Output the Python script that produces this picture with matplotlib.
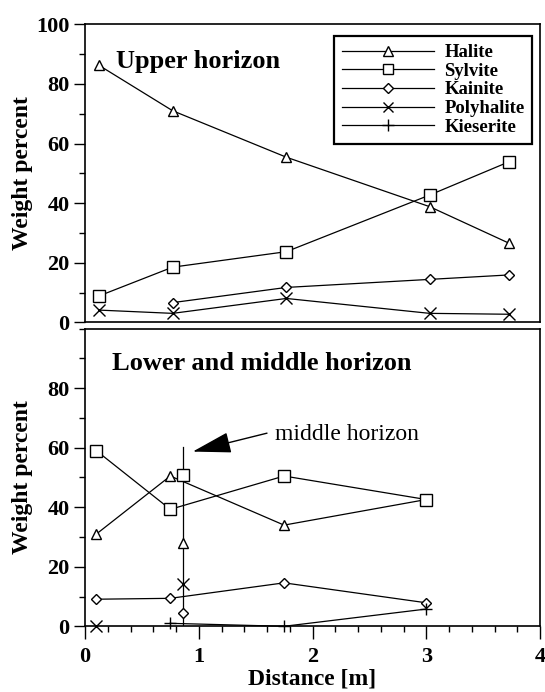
import matplotlib
matplotlib.use("Agg")
import matplotlib.pyplot as plt
from matplotlib.ticker import MultipleLocator, FixedLocator
from matplotlib.lines import Line2D

plt.rcParams['font.family'] = ['Liberation Serif', 'DejaVu Serif']

# ---------------- data ----------------
# Upper horizon
up_x = [0.12, 0.77, 1.77, 3.03, 3.73]
up_halite = [86.3, 71.0, 55.4, 38.8, 26.5]
up_sylvite = [8.8, 18.5, 23.7, 42.7, 53.9]
up_kainite_x = [0.77, 1.77, 3.03, 3.73]
up_kainite = [6.6, 11.7, 14.4, 15.9]
up_polyhalite = [4.1, 3.0, 8.0, 3.0, 2.7]

# Lower horizon
lo_x = [0.10, 0.75, 1.75, 3.00]
lo_halite = [31.0, 50.5, 34.0, 42.6]
lo_sylvite = [59.0, 39.3, 50.5, 42.6]
lo_kainite = [9.1, 9.4, 14.6, 7.9]
lo_polyhalite_x = [0.10]
lo_polyhalite = [0.0]
lo_kieserite_x = [0.75, 1.75, 3.00]
lo_kieserite = [1.0, 0.0, 5.8]

# Middle horizon
mid_x = 0.86
mid_halite = 27.9
mid_sylvite = 50.8
mid_kainite = 4.6
mid_polyhalite = 14.2
mid_line = [0.0, 60.3]

minerals = ['Halite', 'Sylvite', 'Kainite', 'Polyhalite', 'Kieserite']
markers = {'Halite': '^', 'Sylvite': 's', 'Kainite': 'D', 'Polyhalite': 'x', 'Kieserite': '+'}
msizes = {'Halite': 7.5, 'Sylvite': 8, 'Kainite': 5.6, 'Polyhalite': 8, 'Kieserite': 9}

x_ticks = [0, 1, 2, 3, 4]
y_ticks_top = [0, 20, 40, 60, 80, 100]
y_ticks_bottom = [0, 20, 40, 60, 80]

LW = 0.9
TICKFS = 16
LABELFS = 17

def style(m):
    return dict(color='black', lw=LW, marker=markers[m], ms=msizes[m],
                mfc='white', mec='black', mew=1.0, clip_on=False, zorder=3)

fig = plt.figure(figsize=(5.45, 6.92), dpi=100)
L, W = 85 / 545, 455 / 545
ax1 = fig.add_axes([L, 1 - 322.3 / 692, W, 298 / 692])
ax2 = fig.add_axes([L, 1 - 626.3 / 692, W, 297.6 / 692])

# ---- top panel ----
ax1.plot(up_x, up_halite, **style('Halite'))
ax1.plot(up_x, up_sylvite, **style('Sylvite'))
ax1.plot(up_kainite_x, up_kainite, **style('Kainite'))
ax1.plot(up_x, up_polyhalite, **style('Polyhalite'))

leg_ms = {'Halite': 6.5, 'Sylvite': 7, 'Kainite': 5.0, 'Polyhalite': 7.5, 'Kieserite': 9}
handles = []
for m in minerals:
    st = {k: v for k, v in style(m).items() if k not in ('clip_on', 'zorder')}
    st['ms'] = leg_ms[m]
    handles.append(Line2D([], [], **st))
leg = ax1.legend(handles, minerals, loc='upper left', bbox_to_anchor=(0.547, 0.96),
                 borderaxespad=0, frameon=True, fancybox=False, framealpha=1,
                 edgecolor='black', handlelength=4.9, handletextpad=0.57,
                 labelspacing=0.08, borderpad=0.42,
                 prop={'family': 'Liberation Serif', 'weight': 'bold', 'size': 13.5})
leg.get_frame().set_linewidth(1.6)

ax1.text(0.27, 85.2, 'Upper horizon', fontsize=19, fontweight='bold', va='baseline', ha='left')

ax1.set_xlim(0, 4)
ax1.set_ylim(0, 100)
ax1.set_xticks([])
ax1.yaxis.set_major_locator(FixedLocator(y_ticks_top))
ax1.yaxis.set_minor_locator(MultipleLocator(10))

# ---- bottom panel ----
ax2.plot(lo_x, lo_halite, **style('Halite'))
ax2.plot(lo_x, lo_sylvite, **style('Sylvite'))
ax2.plot(lo_x, lo_kainite, **style('Kainite'))
ax2.plot(lo_polyhalite_x, lo_polyhalite, **style('Polyhalite'))
ax2.plot(lo_kieserite_x, lo_kieserite, **style('Kieserite'))

ax2.plot([mid_x, mid_x], mid_line, color='black', lw=LW, zorder=2)
for m, v in (('Halite', mid_halite), ('Sylvite', mid_sylvite),
             ('Kainite', mid_kainite), ('Polyhalite', mid_polyhalite)):
    ax2.plot([mid_x], [v], ls='none',
             **{k: val for k, val in style(m).items() if k not in ('color', 'lw')})

ax2.text(0.237, 86.1, 'Lower and middle horizon', fontsize=19, fontweight='bold', va='baseline', ha='left')
ax2.annotate('', xy=(0.947, 58.7), xytext=(1.60, 64.9),
             arrowprops=dict(arrowstyle='-|>,head_length=1.22,head_width=0.33', color='black',
                             lw=1.0, shrinkA=0, shrinkB=0, mutation_scale=20))
ax2.text(1.67, 62.6, 'middle horizon', fontsize=17, va='baseline', ha='left')

ax2.set_xlim(0, 4)
ax2.set_ylim(0, 100)
ax2.xaxis.set_major_locator(FixedLocator(x_ticks))
ax2.xaxis.set_minor_locator(MultipleLocator(0.2))
ax2.yaxis.set_major_locator(FixedLocator(y_ticks_bottom))
ax2.yaxis.set_minor_locator(MultipleLocator(10))
ax2.set_xlabel('Distance [m]', fontsize=LABELFS, fontweight='bold', labelpad=1)

for ax in (ax1, ax2):
    for s in ax.spines.values():
        s.set_linewidth(1.2)
        s.set_color('black')
    ax.tick_params(which='major', direction='out', length=8, width=1.0, labelsize=TICKFS, pad=3)
    ax.tick_params(which='minor', direction='out', length=4, width=1.0)
    for lab in ax.get_xticklabels() + ax.get_yticklabels():
        lab.set_fontweight('bold')
    ax.set_ylabel('Weight percent', fontsize=LABELFS, fontweight='bold')
    ax.yaxis.set_label_coords(-0.114, 0.5)

ax1.tick_params(axis='x', which='both', bottom=False, labelbottom=False)
ax2.tick_params(axis='x', which='major', length=9, pad=6)

fig.savefig('out.png', dpi=100)
